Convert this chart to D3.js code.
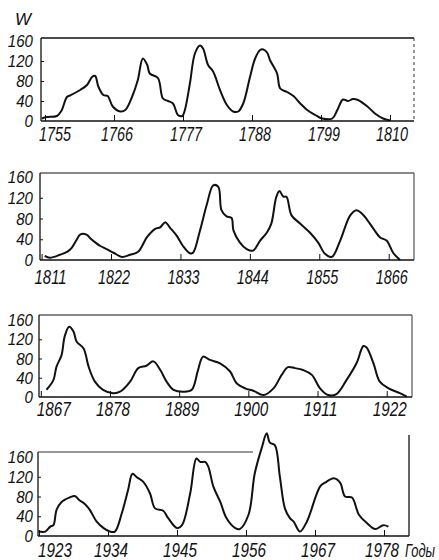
<!DOCTYPE html>
<html>
<head>
<meta charset="utf-8">
<script src="https://cdn.jsdelivr.net/npm/d3@7"></script>
<style>
  body { margin: 0; background: #fff; }
  text { font-family: "Liberation Sans", "DejaVu Sans", sans-serif; font-style: italic; fill: #111; }
</style>
</head>
<body>
<svg id="chart" width="439" height="560"></svg>
<script>
// Wolf numbers (year, smoothed value)
var years1 = [1754.5, 1755.3, 1756.9, 1757.6, 1758.5, 1759.0, 1760.6, 1761.7, 1762.5, 1763.0, 1763.5, 1764.3, 1765.0, 1765.8, 1767.0, 1767.8, 1768.9, 1769.8, 1770.6, 1771.3, 1771.7, 1773.0, 1773.8, 1774.6, 1775.4, 1776.2, 1776.9, 1777.3, 1778.1, 1778.9, 1779.7, 1780.2, 1781.0, 1781.8, 1782.9, 1784.0, 1785.0, 1785.8, 1786.6, 1787.7, 1788.5, 1789.3, 1789.8, 1790.4, 1790.9, 1792.0, 1792.5, 1793.6, 1794.6, 1795.7, 1796.8, 1798.1, 1799.2, 1800.8, 1801.6, 1802.5, 1803.3, 1804.1, 1804.9, 1806.4, 1807.6, 1808.9, 1810.0];
var wolf1 = [5, 8, 10, 20, 48, 51, 62, 72, 88, 90, 69, 52, 50, 29, 19, 22, 49, 82, 125, 112, 95, 86, 45, 40, 35, 12, 10, 22, 75, 135, 151, 145, 112, 99, 62, 32, 19, 19, 35, 89, 125, 142, 143, 137, 121, 95, 65, 58, 50, 35, 22, 12, 5, 5, 22, 43, 40, 44, 42, 29, 15, 5, 1];

var years2 = [1811.5, 1812.3, 1813.9, 1815.1, 1815.8, 1816.6, 1817.1, 1818.1, 1818.7, 1819.5, 1820.3, 1821.3, 1822.4, 1823.7, 1825.0, 1826.3, 1827.7, 1829.0, 1829.8, 1830.6, 1831.3, 1832.4, 1833.4, 1834.5, 1835.0, 1836.1, 1837.2, 1838.2, 1839.0, 1839.5, 1840.3, 1841.1, 1841.4, 1842.4, 1843.5, 1844.5, 1845.6, 1846.7, 1847.4, 1848.2, 1848.7, 1849.3, 1849.8, 1850.6, 1852.0, 1853.5, 1854.8, 1855.9, 1857.0, 1858.3, 1859.9, 1860.9, 1861.7, 1862.5, 1863.6, 1864.6, 1865.7, 1866.7, 1867.8];
var wolf2 = [8, 4.5, 10, 16, 24, 40, 49, 49, 42, 34, 27, 21, 14, 6, 10, 16, 44, 60, 63, 73, 63, 47, 27, 13, 14, 57, 108, 144, 141, 96, 84, 81, 57, 34, 21, 18, 37, 53, 70, 122, 133, 122, 122, 86, 70, 53, 34, 12, 6, 37, 86, 96, 90, 79, 60, 44, 37, 14, 0];

var years3 = [1867.9, 1869.0, 1869.5, 1870.3, 1870.8, 1871.5, 1872.2, 1872.7, 1873.8, 1874.6, 1875.6, 1876.9, 1878.5, 1879.6, 1881.2, 1882.5, 1883.8, 1884.9, 1886.0, 1887.0, 1888.1, 1889.7, 1891.0, 1892.0, 1892.8, 1893.9, 1895.5, 1897.1, 1898.1, 1899.5, 1900.8, 1902.4, 1904.0, 1905.3, 1906.3, 1907.4, 1908.7, 1910.1, 1911.4, 1912.7, 1914.0, 1915.6, 1917.2, 1918.3, 1918.8, 1919.9, 1920.9, 1922.3, 1924.1, 1925.2];
var wolf3 = [15, 35, 63, 87, 126, 146, 136, 115, 101, 63, 32, 15, 8, 11, 32, 60, 65, 74, 56, 32, 15, 11, 15, 56, 84, 77, 70, 53, 29, 18, 13, 4, 18, 46, 62, 60, 56, 46, 18, 4, 6, 35, 70, 106, 103, 70, 32, 18, 8, 1];

var years4 = [1922.9, 1924.0, 1924.8, 1925.3, 1925.8, 1926.6, 1927.9, 1928.7, 1929.4, 1930.3, 1931.1, 1932.2, 1933.3, 1934.3, 1935.1, 1936.2, 1937.2, 1937.9, 1938.6, 1939.6, 1940.7, 1941.5, 1942.8, 1943.6, 1945.0, 1945.8, 1947.1, 1948.1, 1948.7, 1949.5, 1950.0, 1950.8, 1951.9, 1952.9, 1954.3, 1955.0, 1956.4, 1957.4, 1958.5, 1959.3, 1959.8, 1960.6, 1961.4, 1962.2, 1963.0, 1963.6, 1964.6, 1965.7, 1967.8, 1968.6, 1970.0, 1971.0, 1971.8, 1972.9, 1974.0, 1975.3, 1976.6, 1977.9, 1978.7];
var wolf4 = [9, 9, 19, 22, 53, 69, 78, 81, 73, 65, 53, 29, 16, 9, 9, 46, 93, 126, 119, 110, 86, 56, 51, 36, 16, 22, 86, 157, 150, 150, 140, 100, 69, 36, 16, 14, 43, 127, 178, 208, 189, 184, 120, 56, 36, 29, 9, 29, 100, 108, 117, 108, 80, 78, 43, 26, 14, 22, 19];

var ticks1 = [1755, 1766, 1777, 1788, 1799, 1810];
var ticks2 = [1811, 1822, 1833, 1844, 1855, 1866];
var ticks3 = [1867, 1878, 1889, 1900, 1911, 1922];
var ticks4 = [1923, 1934, 1945, 1956, 1967, 1978];
var yTicks = [0, 40, 80, 120, 160];

///////////////////////////////////////////////////////////////
// panels layout
///////////////////////////////////////////////////////////////
var panels = [
  { years: years1, wolf: wolf1, ticks: ticks1, x0: 45, x1: 390, left: 41, right: 414, top: 38, bottom: 121, ytop: 41, labelY: 141, firstShift: 10, lastShift: 2, labelW: 32 },
  { years: years2, wolf: wolf2, ticks: ticks2, x0: 41.6, x1: 388.7, left: 40, right: 414, top: 173, bottom: 260, ytop: 177, labelY: 284, firstShift: 9, lastShift: 3, labelW: 32 },
  { years: years3, wolf: wolf3, ticks: ticks3, x0: 40.8, x1: 386.7, left: 39, right: 412, top: 315, bottom: 397, ytop: 320, labelY: 416, firstShift: 13, lastShift: 3, labelW: 34 },
  { years: years4, wolf: wolf4, ticks: ticks4, x0: 39, x1: 384, left: 38, right: 409, top: 452, bottom: 536, ytop: 457, labelY: 557, firstShift: 16, lastShift: -2, labelW: 34 }
];

var svg = d3.select('#chart');

// squeeze a text horizontally into the given width, like the narrow drafting lettering
function narrow(sel, widthOf) {
  sel.each(function (d, i) {
    var t = d3.select(this);
    var x = +t.attr('x'), y = +t.attr('y');
    var w = typeof widthOf === 'function' ? widthOf(d, i) : widthOf;
    var natural = this.getComputedTextLength() || w;
    t.attr('x', 0).attr('y', 0)
      .attr('transform', 'translate(' + x + ',' + y + ') scale(' + (w / natural) + ',1)');
  });
}

panels.forEach(function (p, k) {
  var x = d3.scaleLinear()
    .domain([p.ticks[0], p.ticks[p.ticks.length - 1]])
    .range([p.x0, p.x1]);
  var y = d3.scaleLinear()
    .domain([0, 160])
    .range([p.bottom, p.ytop]);

  var g = svg.append('g');

  // frame
  g.append('line')
    .attr('x1', p.left).attr('x2', p.left)
    .attr('y1', p.top).attr('y2', p.bottom)
    .attr('stroke', '#111').attr('stroke-width', 1.3);
  g.append('line')
    .attr('x1', p.left).attr('x2', p.right)
    .attr('y1', p.bottom).attr('y2', p.bottom)
    .attr('stroke', '#111').attr('stroke-width', 1.3);
  if (k < 3) {
    g.append('line')
      .attr('x1', p.left).attr('x2', p.right)
      .attr('y1', p.top).attr('y2', p.top)
      .attr('stroke', '#111').attr('stroke-width', k === 0 ? 1.4 : 1);
    g.append('line')
      .attr('x1', p.right).attr('x2', p.right)
      .attr('y1', p.top).attr('y2', p.bottom)
      .attr('stroke', '#333').attr('stroke-width', 1)
      .attr('stroke-dasharray', k === 0 ? '3,3' : null);
  } else {
    // last panel: the top is open over the big 1957 peak
    g.append('line')
      .attr('x1', p.left).attr('x2', 253)
      .attr('y1', p.top).attr('y2', p.top)
      .attr('stroke', '#333').attr('stroke-width', 1);
    g.append('line')
      .attr('x1', p.right).attr('x2', p.right)
      .attr('y1', 435).attr('y2', p.bottom)
      .attr('stroke', '#111').attr('stroke-width', 1.3);
  }

  // x ticks (inward)
  var xAxis = d3.axisBottom(x)
    .tickValues(p.ticks)
    .tickSizeInner(-6)
    .tickSizeOuter(0)
    .tickFormat('');
  var ax = g.append('g')
    .attr('transform', 'translate(0,' + p.bottom + ')')
    .call(xAxis);
  ax.select('.domain').remove();
  ax.selectAll('line').attr('stroke', '#111').attr('stroke-width', 1);

  var last = p.ticks.length - 1;
  g.selectAll('.xlabel')
    .data(p.ticks)
    .enter()
    .append('text')
    .attr('class', 'xlabel')
    .attr('x', (d, i) => x(d) + (i === 0 ? p.firstShift : i === last ? p.lastShift : 3) - p.labelW / 2)
    .attr('y', p.labelY)
    .style('font-size', '20px')
    .text(d => d)
    .call(narrow, p.labelW);

  // y ticks (small inward marks) and labels
  var yAxis = d3.axisLeft(y)
    .tickValues(yTicks.slice(1, 4))
    .tickSizeInner(-3)
    .tickSizeOuter(0)
    .tickFormat('');
  var ay = g.append('g')
    .attr('transform', 'translate(' + p.left + ',0)')
    .call(yAxis);
  ay.select('.domain').remove();
  ay.selectAll('line').attr('stroke', '#111');

  g.selectAll('.ylabel')
    .data(yTicks)
    .enter()
    .append('text')
    .attr('class', 'ylabel')
    .attr('x', d => 33 - String(d).length * 8.4)
    .attr('y', d => y(d) + 6)
    .style('font-size', '16px')
    .text(d => d)
    .call(narrow, d => String(d).length * 8.4);

  // the curve
  var line = d3.line()
    .x((d, i) => x(p.years[i]))
    .y(d => y(d))
    .curve(d3.curveCatmullRom.alpha(0.5));

  g.append('path')
    .datum(p.wolf)
    .attr('d', line)
    .attr('fill', 'none')
    .attr('stroke', '#111')
    .attr('stroke-width', 2)
    .attr('stroke-linejoin', 'round');
});

// axis titles
svg.append('text')
  .attr('x', 15)
  .attr('y', 25)
  .style('font-size', '17px')
  .text('W');

svg.append('text')
  .attr('x', 405)
  .attr('y', 557)
  .style('font-size', '19px')
  .text('Годы')
  .call(narrow, 30);
</script>
</body>
</html>
